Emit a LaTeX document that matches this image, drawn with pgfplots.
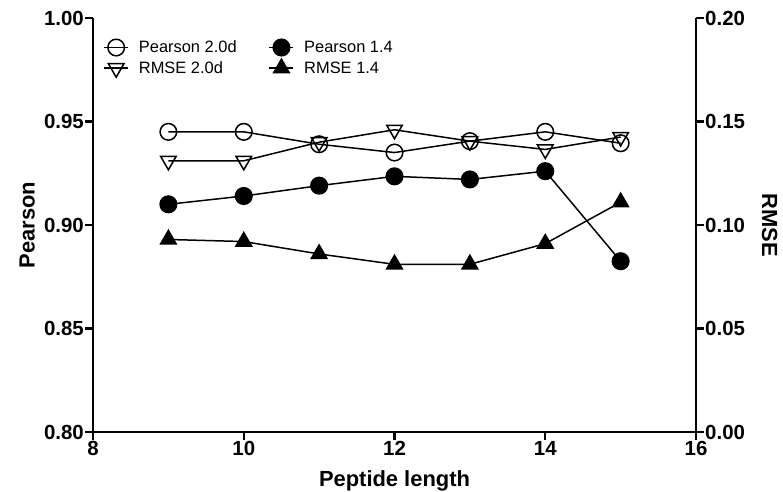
\documentclass[border=0pt]{standalone}
\usepackage{fontspec}
\setmainfont{Liberation Sans}
\usepackage{pgfplots}
\pgfplotsset{compat=1.18}
\begin{document}
\begin{tikzpicture}[x=1bp,y=1bp]
\useasboundingbox (0,0) rectangle (783,492);
\pgfplotsset{
  common/.style={
    at={(93bp,60bp)}, anchor=south west, scale only axis,
    width=603bp, height=414bp,
    xmin=8, xmax=16, clip=false,
    axis line style={line width=2.4bp, -},
    tick style={line width=2.4bp, black},
    major tick length=8bp, tick align=outside,
    ticklabel style={font=\fontsize{20.5}{20.5}\selectfont\bfseries},
    label style={font=\fontsize{22}{22}\selectfont\bfseries},
  },
  ser/.style={black, line width=1.5bp, mark size=8.3bp},
}
\begin{axis}[common,
  ymin=0.8, ymax=1.0,
  axis x line*=bottom, axis y line*=left,
  xtick={8,10,12,14,16},
  xticklabels={8,10,12,14,16},
  ytick={0.8,0.85,0.9,0.95,1.0},
  yticklabels={0.80,0.85,0.90,0.95,1.00},
  yticklabel style={inner xsep=1bp},
  xticklabel style={inner ysep=1bp},
  xlabel={Peptide length}, ylabel={Pearson},
  xlabel style={at={(axis description cs:0.5,-0.118)}, anchor=center},
  ylabel style={at={(axis description cs:-0.109,0.5)}, anchor=center},
  legend columns=2,
  legend image code/.code={%
    \draw[mark repeat=2,mark phase=2] plot coordinates {(0bp,0bp)(12bp,0bp)(24bp,0bp)};},
  legend style={at={(axis description cs:0.012,0.955)}, anchor=north west,
    draw=none, fill=none, font=\fontsize{16.5}{16.5}\selectfont,
    nodes={inner xsep=10bp},
    /tikz/every even column/.append style={column sep=22bp},
    row sep=3bp},
  legend cell align=left,
]
\addplot[ser, mark=o] coordinates {(9,0.945)(10,0.945)(11,0.939)(12,0.935)(13,0.9405)(14,0.945)(15,0.9395)};
\addlegendentry{Pearson 2.0d}
\addplot[ser, mark=*, mark options={fill=black}] coordinates {(9,0.910)(10,0.914)(11,0.919)(12,0.9235)(13,0.922)(14,0.926)(15,0.8825)};
\addlegendentry{Pearson 1.4}
\addlegendimage{ser, mark=triangle, mark size=9bp, mark options={rotate=180}}
\addlegendentry{RMSE 2.0d}
\addlegendimage{ser, mark=triangle*, mark size=9bp, mark options={fill=black}}
\addlegendentry{RMSE 1.4}
\end{axis}
\begin{axis}[common,
  ymin=0, ymax=0.2,
  axis x line=none, axis y line*=right,
  ytick={0,0.05,0.1,0.15,0.2},
  yticklabels={0.00,0.05,0.10,0.15,0.20},
  yticklabel style={inner xsep=1bp},
  ylabel={RMSE},
  ylabel style={at={(axis description cs:1.122,0.5)}, anchor=center, rotate=180},
]
\addplot[ser, mark=triangle, mark size=9bp, mark options={rotate=180}] coordinates {(9,0.131)(10,0.131)(11,0.140)(12,0.146)(13,0.1405)(14,0.1365)(15,0.1425)};
\addplot[ser, mark=triangle*, mark size=9bp, mark options={fill=black}] coordinates {(9,0.093)(10,0.092)(11,0.086)(12,0.081)(13,0.081)(14,0.091)(15,0.111)};
\end{axis}
\end{tikzpicture}
\end{document}
